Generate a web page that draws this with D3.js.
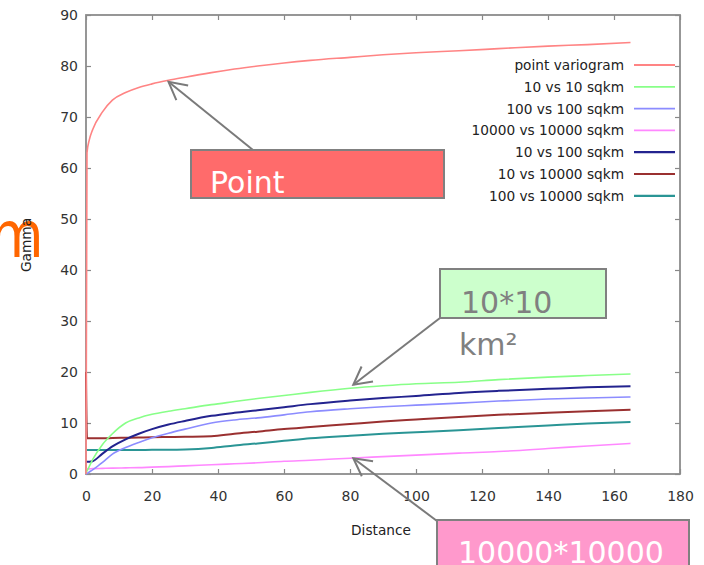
<!DOCTYPE html>
<html>
<head>
<meta charset="utf-8">
<script src="https://d3js.org/d3.v7.min.js"></script>
<style>
body { margin:0; background:#fff; }
svg text { font-family: "DejaVu Sans", Verdana, sans-serif; }
</style>
</head>
<body>
<svg width="704" height="565"></svg>
<script>
// distances (x) shared by all the curves
var DIST = [0, 0.3, 1, 2, 5, 8, 12, 16, 20, 25, 30, 38, 45, 52, 60, 68, 80, 90, 100, 113, 125, 140, 152, 165];

var POINT     = [0, 63, 65.5, 67.5, 71, 73.3, 74.8, 75.8, 76.5, 77.2, 77.8, 78.7, 79.4, 80.0, 80.6, 81.1, 81.7, 82.2, 82.6, 83.0, 83.4, 83.9, 84.2, 84.6];
var S10_10    = [0.3, 0.6, 1.5, 2.8, 5.8, 7.9, 10.0, 11.0, 11.7, 12.3, 12.8, 13.6, 14.2, 14.8, 15.4, 16.0, 16.8, 17.3, 17.7, 18.0, 18.5, 19.0, 19.3, 19.6];
var S100_100  = [0, 0.1, 0.4, 0.8, 2.3, 3.9, 5.2, 6.2, 7.1, 8.0, 8.8, 10.0, 10.6, 11.0, 11.6, 12.2, 12.8, 13.2, 13.5, 13.9, 14.3, 14.7, 14.9, 15.1];
var S1e4_1e4  = [1.0, 1.0, 1.0, 1.05, 1.1, 1.15, 1.2, 1.25, 1.35, 1.45, 1.6, 1.8, 2.0, 2.2, 2.5, 2.7, 3.1, 3.4, 3.7, 4.1, 4.4, 5.0, 5.5, 6.0];
var S10_100   = [2.5, 2.4, 2.4, 2.5, 4.0, 5.4, 6.8, 7.9, 8.8, 9.7, 10.4, 11.4, 12.0, 12.5, 13.1, 13.7, 14.4, 14.9, 15.3, 15.9, 16.3, 16.7, 17.0, 17.2];
var S10_1e4   = [20, 7.0, 7.0, 7.0, 7.0, 7.05, 7.1, 7.15, 7.2, 7.25, 7.3, 7.4, 7.9, 8.3, 8.8, 9.2, 9.8, 10.3, 10.7, 11.2, 11.6, 12.0, 12.3, 12.6];
var S100_1e4  = [4.7, 4.7, 4.7, 4.7, 4.7, 4.7, 4.7, 4.7, 4.75, 4.75, 4.8, 5.1, 5.6, 6.0, 6.5, 7.0, 7.5, 7.9, 8.2, 8.6, 9.0, 9.5, 9.9, 10.2];

var NAMES  = ['point variogram', '10 vs 10 sqkm', '100 vs 100 sqkm', '10000 vs 10000 sqkm', '10 vs 100 sqkm', '10 vs 10000 sqkm', '100 vs 10000 sqkm'];
var VALUES = [POINT, S10_10, S100_100, S1e4_1e4, S10_100, S10_1e4, S100_1e4];
var COLORS = ['#ff8484', '#88ff88', '#8c8cff', '#ff88ff', '#23238f', '#9a3030', '#2a9595'];

var X_TICKS = [0, 20, 40, 60, 80, 100, 120, 140, 160, 180];
var Y_TICKS = [0, 10, 20, 30, 40, 50, 60, 70, 80, 90];

// callouts: text, arrow tip in data units (distance, gamma)
var NOTES = [
  {text:'Point', tip:[25, 76.9], fill:'#ff6b6b', color:'#fff'},
  {text:'10*10', tip:[81, 17.5], fill:'#ccffcc', color:'#808080'},
  {text:'10000*10000', tip:[81, 3.1], fill:'#ff99cc', color:'#fff'}
];

var svg = d3.select('svg');
var L = 86, R = 680, T = 15, B = 474;

var x = d3.scaleLinear().domain([0, 180]).range([L, R]);
var y = d3.scaleLinear().domain([0, 90]).range([B, T]);

// orange glyph cut off at the left edge
svg.append('text')
  .attr('transform', 'translate(-10,257) scale(1,1.17)')
  .attr('font-size', 55)
  .attr('fill', '#ff6600')
  .text('m');

// axes, ticks pointing inward
function styleAxis(g){
  g.selectAll('.domain').remove();
  g.selectAll('line').attr('stroke', '#888').attr('stroke-width', 1.2);
  g.selectAll('text').attr('fill', '#333').attr('font-size', 14).attr('font-family', '"DejaVu Sans", Verdana, sans-serif');
}
svg.append('g').attr('transform', 'translate(0,' + B + ')')
  .call(d3.axisBottom(x).tickValues(X_TICKS).tickSize(-5).tickPadding(17)).call(styleAxis);
svg.append('g').attr('transform', 'translate(' + L + ',0)')
  .call(d3.axisLeft(y).tickValues(Y_TICKS).tickSize(-5).tickPadding(8)).call(styleAxis);
svg.append('g').attr('transform', 'translate(0,' + T + ')')
  .call(d3.axisTop(x).tickValues(X_TICKS).tickSize(-5).tickFormat('')).call(styleAxis);
svg.append('g').attr('transform', 'translate(' + R + ',0)')
  .call(d3.axisRight(y).tickValues(Y_TICKS).tickSize(-5).tickFormat('')).call(styleAxis);

svg.append('rect')
  .attr('x', L).attr('y', T).attr('width', R - L).attr('height', B - T)
  .attr('fill', 'none').attr('stroke', '#8c8c8c').attr('stroke-width', 1.8);

svg.append('text').attr('x', 381).attr('y', 535).attr('text-anchor', 'middle')
  .attr('font-size', 13.7).attr('fill', '#222').text('Distance');
svg.append('text').attr('transform', 'translate(31,245) rotate(-90)').attr('text-anchor', 'middle')
  .attr('font-size', 13.7).attr('fill', '#222').text('Gamma');

// curves
var line = d3.line()
  .x(function(d){ return x(d[0]); })
  .y(function(d){ return y(d[1]); })
  .curve(d3.curveMonotoneX);

for (var s = VALUES.length - 1; s >= 0; s--) {
  var pts = DIST.map(function(d, i){ return [d, VALUES[s][i]]; });
  svg.append('path').datum(pts)
    .attr('d', line)
    .attr('fill', 'none')
    .attr('stroke', COLORS[s])
    .attr('stroke-width', s >= 4 ? 2 : 1.6);
}

// legend
var leg = svg.append('g');
NAMES.forEach(function(n, i){
  var cy = 65 + i * 21.8;
  leg.append('text').attr('x', 624).attr('y', cy + 5).attr('text-anchor', 'end')
    .attr('font-size', 13.7).attr('fill', '#222').text(n);
  leg.append('line').attr('x1', 634).attr('x2', 675).attr('y1', cy).attr('y2', cy)
    .attr('stroke', COLORS[i]).attr('stroke-width', i >= 4 ? 2.2 : 1.8);
});

// callout boxes (layout in px) and arrows
var BOXES = [
  {x:191, y:150, w:253, h:48, tx:210, ty:193, from:[253, 150]},
  {x:440, y:269, w:166, h:49, tx:461, ty:313, from:[440, 318]},
  {x:437, y:520, w:252, h:60, tx:458, ty:563, from:[437, 521]}
];

NOTES.forEach(function(n, i){
  var b = BOXES[i];
  var tx = x(n.tip[0]), ty = y(n.tip[1]);
  var ang = Math.atan2(b.from[1] - ty, b.from[0] - tx);
  var len = 20, spread = 28 * Math.PI / 180;
  var g = svg.append('g').attr('stroke', '#7a7a7a').attr('stroke-width', 2).attr('fill', 'none');
  g.append('line').attr('x1', b.from[0]).attr('y1', b.from[1]).attr('x2', tx).attr('y2', ty);
  g.append('polyline').attr('points', [
    [tx + len * Math.cos(ang - spread), ty + len * Math.sin(ang - spread)],
    [tx, ty],
    [tx + len * Math.cos(ang + spread), ty + len * Math.sin(ang + spread)]
  ].join(' '));

  svg.append('rect').attr('x', b.x).attr('y', b.y).attr('width', b.w).attr('height', b.h)
    .attr('fill', n.fill).attr('stroke', '#808080').attr('stroke-width', 2);
  svg.append('text').attr('x', b.tx).attr('y', b.ty)
    .attr('font-size', 30).attr('fill', n.color).text(n.text);
});

// wrapped second line of the green note
svg.append('text').attr('x', 459).attr('y', 355)
  .attr('font-size', 30).attr('fill', '#808080').text('km²');
</script>
</body>
</html>
